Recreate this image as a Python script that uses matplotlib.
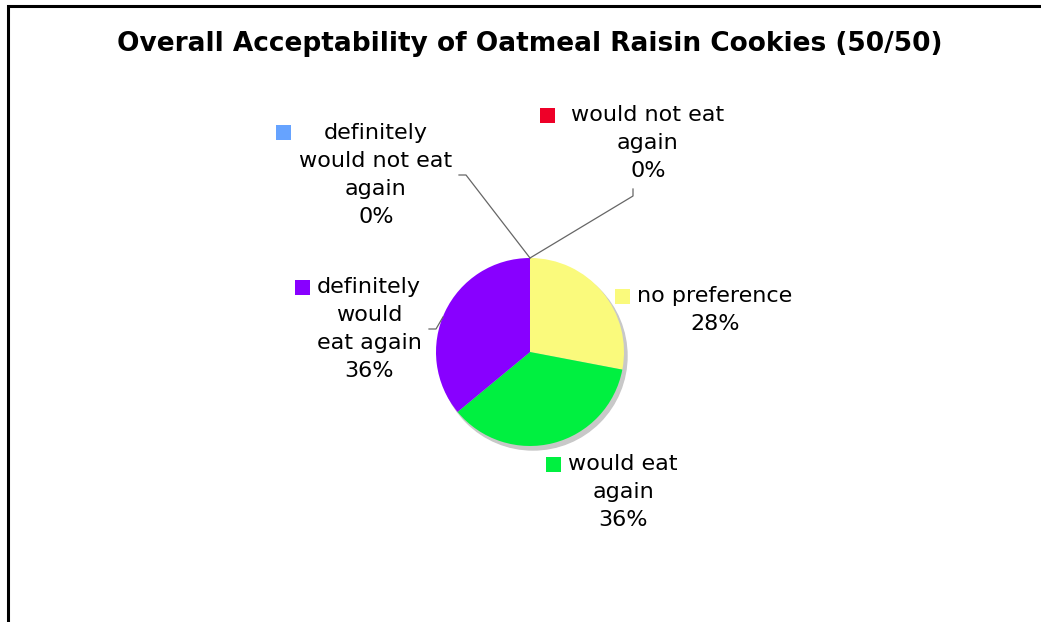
import matplotlib
matplotlib.use("Agg")
import matplotlib.pyplot as plt
from matplotlib.patches import Circle, Rectangle

# ---- data ----
categories = ["would not eat\nagain", "no preference", "would eat\nagain",
              "definitely\nwould\neat again", "definitely\nwould not eat\nagain"]
values = [0, 28, 36, 36, 0]
colors = ["#EE0028", "#FAFA7C", "#00F040", "#8800FF", "#66A3FF"]
title = "Overall Acceptability of Oatmeal Raisin Cookies (50/50)"

W, H = 1041, 622
fig = plt.figure(figsize=(W / 100, H / 100), dpi=100)
ax = fig.add_axes([0, 0, 1, 1])
ax.set_xlim(0, W)
ax.set_ylim(0, H)
ax.axis("off")

def Y(py):
    return H - py

# frame
ax.plot([8, 8, W + 5], [Y(H + 5), Y(6), Y(6)], color="black", lw=2.2,
        solid_joinstyle="miter")

ax.text(530, Y(44), title, ha="center", va="center", fontsize=19,
        fontweight="bold", family="DejaVu Sans")

cx, cy, r = 530, Y(352), 94
# shadow
ax.add_patch(Circle((cx + 3, cy - 4), r, color="#c8c8c8", zorder=1))
ax.pie(values, colors=colors, startangle=90, counterclock=False,
       center=(cx, cy), radius=r, wedgeprops=dict(linewidth=0),
       frame=True)
ax.set_xlim(0, W)
ax.set_ylim(0, H)
ax.set_aspect("equal")
ax.axis("off")

# label layout: (text center x, first line y, square x, square y)
layout = [
    (648, 115, 547, 115),
    (715, 296, 622, 296),
    (623, 464, 553, 464),
    (369, 287, 302, 287),
    (376, 133, 283, 132),
]
fs = 16
lh = 28
for (lab, v, col, (tx, ty, sx, sy)) in zip(categories, values, colors, layout):
    lines = lab.split("\n") + [f"{v}%"]
    for i, ln in enumerate(lines):
        ax.text(tx, Y(ty + i * lh), ln, ha="center", va="center",
                fontsize=fs, color="black")
    s = 15
    ax.add_patch(Rectangle((sx - s / 2, Y(sy) - s / 2), s, s, color=col,
                           lw=0, zorder=3))

# leader lines
lc = "#666666"
ax.plot([530, 633, 633], [Y(258), Y(196), Y(189)], color=lc, lw=0.9)
ax.plot([530, 466, 459], [Y(258), Y(175), Y(175)], color=lc, lw=0.9)
ax.plot([443, 436, 429], [Y(317), Y(329), Y(329)], color=lc, lw=0.9)

fig.savefig("out.png", dpi=100)
